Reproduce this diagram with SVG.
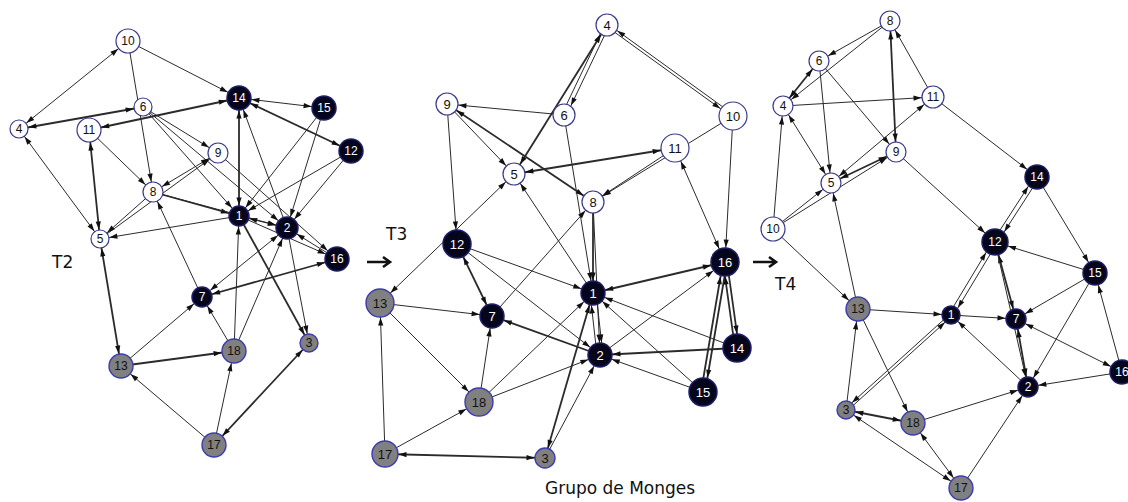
<svg xmlns="http://www.w3.org/2000/svg" width="1128" height="502" viewBox="0 0 1128 502">
  <defs>
    <style>
      .e line{stroke:#2b2b2b;stroke-width:1;fill:none}
      .e .b{stroke-width:1.8}
      .t9{marker-end:url(#m9)} .t10{marker-end:url(#m10)} .t11{marker-end:url(#m11)}
      .t12{marker-end:url(#m12)} .t13{marker-end:url(#m13)} .t14{marker-end:url(#m14)}
      .s9{marker-start:url(#m9)} .s10{marker-start:url(#m10)} .s11{marker-start:url(#m11)}
      .s12{marker-start:url(#m12)} .s13{marker-start:url(#m13)} .s14{marker-start:url(#m14)}
      .w circle{fill:#fff;stroke:#3a3a8c;stroke-width:1.2}
      .k circle{fill:#05051c;stroke:#1e1e66;stroke-width:1.5}
      .g circle{fill:#808080;stroke:#3c3cb0;stroke-width:1.4}
      .w text,.g text,.k text{font-family:"Liberation Sans",Arial,sans-serif;font-size:12px;text-anchor:middle}
      .w text,.g text{fill:#111}
      .k text{fill:#fff}
      .big text{font-size:13px}
      .lbl{font-family:"DejaVu Sans",Verdana,sans-serif;font-size:17px;fill:#111}
      .arr{stroke:#111;stroke-width:2.6;fill:none}
    </style>
    <marker id="m9" markerUnits="userSpaceOnUse" markerWidth="9" markerHeight="7" refX="17.5" refY="3" orient="auto-start-reverse" overflow="visible"><path d="M0,0.4 L8,3 L0,5.6 z" fill="#111"/></marker>
    <marker id="m10" markerUnits="userSpaceOnUse" markerWidth="9" markerHeight="7" refX="18.5" refY="3" orient="auto-start-reverse" overflow="visible"><path d="M0,0.4 L8,3 L0,5.6 z" fill="#111"/></marker>
    <marker id="m11" markerUnits="userSpaceOnUse" markerWidth="9" markerHeight="7" refX="19.5" refY="3" orient="auto-start-reverse" overflow="visible"><path d="M0,0.4 L8,3 L0,5.6 z" fill="#111"/></marker>
    <marker id="m12" markerUnits="userSpaceOnUse" markerWidth="9" markerHeight="7" refX="20.5" refY="3" orient="auto-start-reverse" overflow="visible"><path d="M0,0.4 L8,3 L0,5.6 z" fill="#111"/></marker>
    <marker id="m13" markerUnits="userSpaceOnUse" markerWidth="9" markerHeight="7" refX="21.5" refY="3" orient="auto-start-reverse" overflow="visible"><path d="M0,0.4 L8,3 L0,5.6 z" fill="#111"/></marker>
    <marker id="m14" markerUnits="userSpaceOnUse" markerWidth="9" markerHeight="7" refX="22.5" refY="3" orient="auto-start-reverse" overflow="visible"><path d="M0,0.4 L8,3 L0,5.6 z" fill="#111"/></marker>
  </defs>

  <rect width="1128" height="502" fill="#fff"/>

  <!-- ===== T2 : connectors ===== -->
  <g id="t2-edges" class="e">
    <line x1="19" y1="129" x2="128" y2="41" class="s9 t12"/>
    <line x1="128" y1="41" x2="239" y2="98" class="t12"/>
    <line x1="128" y1="41" x2="153" y2="192" class="t10"/>
    <line x1="19" y1="129" x2="143" y2="107" class="b s9 t9"/>
    <line x1="89" y1="130" x2="239" y2="98" class="b s12 t12"/>
    <line x1="19" y1="129" x2="100" y2="239" class="s9 t9"/>
    <line x1="89" y1="130" x2="100" y2="239" class="b s12 t9"/>
    <line x1="89" y1="130" x2="153" y2="192" class="t10"/>
    <line x1="143" y1="107" x2="218" y2="153" class="t10"/>
    <line x1="143" y1="107" x2="239" y2="216" class="t10"/>
    <line x1="143" y1="107" x2="287" y2="228" class="t11"/>
    <line x1="153" y1="192" x2="239" y2="216" class="b t10"/>
    <line x1="153" y1="192" x2="218" y2="153" class="s10 t10"/>
    <line x1="100" y1="239" x2="218" y2="153" class="t10"/>
    <line x1="153" y1="192" x2="100" y2="239" class="t9"/>
    <line x1="239" y1="216" x2="100" y2="239" class="t9"/>
    <line x1="153" y1="192" x2="287" y2="228" class="t11"/>
    <line x1="239" y1="98" x2="239" y2="216" class="b s12 t10"/>
    <line x1="239" y1="98" x2="324" y2="108" class="s12 t12"/>
    <line x1="239" y1="98" x2="351" y2="151" class="b s12 t12"/>
    <line x1="324" y1="108" x2="239" y2="216" class="t10"/>
    <line x1="324" y1="108" x2="287" y2="228" class="t11"/>
    <line x1="351" y1="151" x2="239" y2="216" class="t10"/>
    <line x1="351" y1="151" x2="287" y2="228" class="t11"/>
    <line x1="287" y1="228" x2="239" y2="98" class="t12"/>
    <line x1="239" y1="216" x2="287" y2="228" class="s10 t11"/>
    <line x1="239" y1="216" x2="337" y2="259" class="t12"/>
    <line x1="337" y1="259" x2="287" y2="228" class="t11"/>
    <line x1="218" y1="153" x2="337" y2="259" class="t12"/>
    <line x1="202" y1="297" x2="337" y2="259" class="b s10 t12"/>
    <line x1="287" y1="228" x2="202" y2="297" class="s11 t10"/>
    <line x1="202" y1="297" x2="153" y2="192" class="t10"/>
    <line x1="239" y1="216" x2="309" y2="343" class="b t9"/>
    <line x1="234" y1="351" x2="239" y2="216" class="t10"/>
    <line x1="234" y1="351" x2="287" y2="228" class="t11"/>
    <line x1="287" y1="228" x2="309" y2="343" class="t9"/>
    <line x1="121" y1="366" x2="202" y2="297" class="t10"/>
    <line x1="121" y1="366" x2="234" y2="351" class="b t12"/>
    <line x1="214" y1="445" x2="121" y2="366" class="t12"/>
    <line x1="214" y1="445" x2="234" y2="351" class="t12"/>
    <line x1="214" y1="445" x2="309" y2="343" class="b s12 t9"/>
    <line x1="100" y1="239" x2="121" y2="366" class="b s9 t12"/>
    <line x1="234" y1="351" x2="202" y2="297" class="t10"/>
  </g>

  <!-- ===== T2 : nodes ===== -->
  <g id="t2-n10" class="w"><circle cx="128" cy="41" r="12"/><text x="128" y="45">10</text></g>
  <g id="t2-n4" class="w"><circle cx="19" cy="129" r="9"/><text x="19" y="133">4</text></g>
  <g id="t2-n6" class="w"><circle cx="143" cy="107" r="9"/><text x="143" y="111">6</text></g>
  <g id="t2-n11" class="w"><circle cx="89" cy="130" r="12"/><text x="89" y="134">11</text></g>
  <g id="t2-n9" class="w"><circle cx="218" cy="153" r="10"/><text x="218" y="157">9</text></g>
  <g id="t2-n8" class="w"><circle cx="153" cy="192" r="10"/><text x="153" y="196">8</text></g>
  <g id="t2-n5" class="w"><circle cx="100" cy="239" r="9"/><text x="100" y="243">5</text></g>
  <g id="t2-n14" class="k"><circle cx="239" cy="98" r="12"/><text x="239" y="102">14</text></g>
  <g id="t2-n15" class="k"><circle cx="324" cy="108" r="12"/><text x="324" y="112">15</text></g>
  <g id="t2-n12" class="k"><circle cx="351" cy="151" r="12"/><text x="351" y="155">12</text></g>
  <g id="t2-n1" class="k"><circle cx="239" cy="216" r="10"/><text x="239" y="220">1</text></g>
  <g id="t2-n2" class="k"><circle cx="287" cy="228" r="11"/><text x="287" y="232">2</text></g>
  <g id="t2-n16" class="k"><circle cx="337" cy="259" r="12"/><text x="337" y="263">16</text></g>
  <g id="t2-n7" class="k"><circle cx="202" cy="297" r="10"/><text x="202" y="301">7</text></g>
  <g id="t2-n13" class="g"><circle cx="121" cy="366" r="12"/><text x="121" y="370">13</text></g>
  <g id="t2-n18" class="g"><circle cx="234" cy="351" r="12"/><text x="234" y="355">18</text></g>
  <g id="t2-n3" class="g"><circle cx="309" cy="343" r="9"/><text x="309" y="347">3</text></g>
  <g id="t2-n17" class="g"><circle cx="214" cy="445" r="12"/><text x="214" y="449">17</text></g>

  <!-- ===== T3 : connectors ===== -->
  <g id="t3-edges" class="e">
    <line x1="609" y1="26" x2="566" y2="116" class="t11"/>
    <line x1="605" y1="24" x2="562" y2="114" class="s11"/>
    <line x1="607" y1="25" x2="514" y2="174" class="b s11 t11"/>
    <line x1="606" y1="26" x2="732" y2="117" class="t14"/>
    <line x1="608" y1="24" x2="734" y2="115" class="s11"/>
    <line x1="564" y1="115" x2="447" y2="104" class="t11"/>
    <line x1="447" y1="104" x2="514" y2="174" class="t11"/>
    <line x1="447" y1="104" x2="593" y2="202" class="b s11 t11"/>
    <line x1="447" y1="104" x2="457" y2="244" class="t14"/>
    <line x1="514" y1="174" x2="380" y2="303" class="s11 t14"/>
    <line x1="514" y1="174" x2="675" y2="148" class="b s11 t14"/>
    <line x1="564" y1="115" x2="593" y2="293" class="t12"/>
    <line x1="733" y1="116" x2="593" y2="202" class="t11"/>
    <line x1="675" y1="148" x2="593" y2="202" class="t11"/>
    <line x1="733" y1="116" x2="725" y2="262" class="t14"/>
    <line x1="675" y1="148" x2="725" y2="262" class="s14 t14"/>
    <line x1="593" y1="202" x2="593" y2="293" class="b t12"/>
    <line x1="593" y1="202" x2="600" y2="355" class="t12"/>
    <line x1="492" y1="316" x2="593" y2="202" class="t11"/>
    <line x1="593" y1="293" x2="514" y2="174" class="t11"/>
    <line x1="457" y1="244" x2="593" y2="293" class="t12"/>
    <line x1="457" y1="244" x2="492" y2="316" class="b s14 t12"/>
    <line x1="457" y1="244" x2="600" y2="355" class="t12"/>
    <line x1="380" y1="303" x2="492" y2="316" class="t12"/>
    <line x1="380" y1="303" x2="479" y2="402" class="t14"/>
    <line x1="385" y1="454" x2="380" y2="303" class="t14"/>
    <line x1="385" y1="454" x2="479" y2="402" class="t14"/>
    <line x1="385" y1="454" x2="545" y2="458" class="b s13 t10"/>
    <line x1="479" y1="402" x2="492" y2="316" class="t12"/>
    <line x1="479" y1="402" x2="593" y2="293" class="t12"/>
    <line x1="479" y1="402" x2="600" y2="355" class="t12"/>
    <line x1="600" y1="355" x2="492" y2="316" class="b t12"/>
    <line x1="593" y1="293" x2="725" y2="262" class="b s12 t14"/>
    <line x1="600" y1="355" x2="725" y2="262" class="t14"/>
    <line x1="727" y1="262" x2="705" y2="392" class="b t14"/>
    <line x1="723" y1="262" x2="701" y2="392" class="b s14"/>
    <line x1="727" y1="262" x2="739" y2="348" class="b t14"/>
    <line x1="723" y1="262" x2="735" y2="348" class="b s14"/>
    <line x1="737" y1="348" x2="593" y2="293" class="t12"/>
    <line x1="737" y1="348" x2="600" y2="355" class="b t12"/>
    <line x1="703" y1="392" x2="600" y2="355" class="t12"/>
    <line x1="703" y1="392" x2="593" y2="293" class="t12"/>
    <line x1="590" y1="293" x2="597" y2="355" class="s12"/>
    <line x1="596" y1="293" x2="603" y2="355" class="t12"/>
    <line x1="545" y1="458" x2="593" y2="293" class="b s10 t12"/>
    <line x1="545" y1="458" x2="600" y2="355" class="t12"/>
  </g>

  <!-- ===== T3 : nodes ===== -->
  <g id="t3-n4" class="w big"><circle cx="607" cy="25" r="11"/><text x="607" y="30">4</text></g>
  <g id="t3-n6" class="w big"><circle cx="564" cy="115" r="11"/><text x="564" y="120">6</text></g>
  <g id="t3-n9" class="w big"><circle cx="447" cy="104" r="11"/><text x="447" y="109">9</text></g>
  <g id="t3-n10" class="w big"><circle cx="733" cy="116" r="14"/><text x="733" y="121">10</text></g>
  <g id="t3-n11" class="w big"><circle cx="675" cy="148" r="14"/><text x="675" y="153">11</text></g>
  <g id="t3-n5" class="w big"><circle cx="514" cy="174" r="11"/><text x="514" y="179">5</text></g>
  <g id="t3-n8" class="w big"><circle cx="593" cy="202" r="11"/><text x="593" y="207">8</text></g>
  <g id="t3-n12" class="k big"><circle cx="457" cy="244" r="14"/><text x="457" y="249">12</text></g>
  <g id="t3-n7" class="k big"><circle cx="492" cy="316" r="12"/><text x="492" y="321">7</text></g>
  <g id="t3-n16" class="k big"><circle cx="725" cy="262" r="14"/><text x="725" y="267">16</text></g>
  <g id="t3-n1" class="k big"><circle cx="593" cy="293" r="12"/><text x="593" y="298">1</text></g>
  <g id="t3-n2" class="k big"><circle cx="600" cy="355" r="12"/><text x="600" y="360">2</text></g>
  <g id="t3-n14" class="k big"><circle cx="737" cy="348" r="14"/><text x="737" y="353">14</text></g>
  <g id="t3-n15" class="k big"><circle cx="703" cy="392" r="14"/><text x="703" y="397">15</text></g>
  <g id="t3-n13" class="g big"><circle cx="380" cy="303" r="14"/><text x="380" y="308">13</text></g>
  <g id="t3-n18" class="g big"><circle cx="479" cy="402" r="14"/><text x="479" y="407">18</text></g>
  <g id="t3-n17" class="g big"><circle cx="385" cy="454" r="13"/><text x="385" y="459">17</text></g>
  <g id="t3-n3" class="g big"><circle cx="545" cy="458" r="10"/><text x="545" y="463">3</text></g>

  <!-- ===== T4 : connectors ===== -->
  <g id="t4-edges" class="e">
    <line x1="890" y1="21" x2="819" y2="61" class="t10"/>
    <line x1="890" y1="21" x2="783" y2="106" class="t10"/>
    <line x1="819" y1="61" x2="783" y2="106" class="b s10 t10"/>
    <line x1="819" y1="61" x2="831" y2="183" class="t10"/>
    <line x1="819" y1="61" x2="896" y2="152" class="t10"/>
    <line x1="890" y1="21" x2="896" y2="152" class="b s10 t10"/>
    <line x1="933" y1="97" x2="890" y2="21" class="t10"/>
    <line x1="783" y1="106" x2="933" y2="97" class="t11"/>
    <line x1="783" y1="106" x2="831" y2="183" class="s10 t10"/>
    <line x1="773" y1="229" x2="783" y2="106" class="t10"/>
    <line x1="773" y1="229" x2="831" y2="183" class="t10"/>
    <line x1="773" y1="229" x2="896" y2="152" class="t10"/>
    <line x1="831" y1="183" x2="896" y2="152" class="b s10 t10"/>
    <line x1="831" y1="183" x2="933" y2="97" class="s10 t11"/>
    <line x1="933" y1="97" x2="1037" y2="177" class="t12"/>
    <line x1="896" y1="152" x2="995" y2="242" class="t13"/>
    <line x1="1039" y1="178" x2="997" y2="243" class="t13"/>
    <line x1="1035" y1="176" x2="993" y2="241" class="s12"/>
    <line x1="1037" y1="177" x2="1095" y2="273" class="t12"/>
    <line x1="1095" y1="273" x2="995" y2="242" class="t13"/>
    <line x1="1095" y1="273" x2="1016" y2="319" class="t10"/>
    <line x1="1095" y1="273" x2="1028" y2="387" class="t10"/>
    <line x1="1122" y1="372" x2="1095" y2="273" class="t12"/>
    <line x1="997" y1="243" x2="953" y2="316" class="t9"/>
    <line x1="993" y1="241" x2="949" y2="314" class="s13"/>
    <line x1="995" y1="242" x2="1016" y2="319" class="b s13 t10"/>
    <line x1="995" y1="242" x2="1028" y2="387" class="t10"/>
    <line x1="1016" y1="319" x2="1028" y2="387" class="b s10 t10"/>
    <line x1="951" y1="315" x2="1016" y2="319" class="t10"/>
    <line x1="1028" y1="387" x2="951" y2="315" class="t9"/>
    <line x1="1016" y1="319" x2="1122" y2="372" class="s10 t12"/>
    <line x1="1122" y1="372" x2="1028" y2="387" class="t10"/>
    <line x1="913" y1="423" x2="1028" y2="387" class="t10"/>
    <line x1="961" y1="488" x2="1028" y2="387" class="t10"/>
    <line x1="858" y1="309" x2="951" y2="315" class="t9"/>
    <line x1="858" y1="309" x2="831" y2="183" class="t10"/>
    <line x1="773" y1="229" x2="858" y2="309" class="t12"/>
    <line x1="846" y1="410" x2="858" y2="309" class="t12"/>
    <line x1="858" y1="309" x2="913" y2="423" class="t12"/>
    <line x1="847" y1="411" x2="952" y2="316" class="t9"/>
    <line x1="845" y1="409" x2="950" y2="314" class="s9"/>
    <line x1="846" y1="410" x2="913" y2="423" class="b s9 t12"/>
    <line x1="846" y1="410" x2="961" y2="488" class="s9 t12"/>
    <line x1="913" y1="423" x2="961" y2="488" class="s12 t12"/>
  </g>

  <!-- ===== T4 : nodes ===== -->
  <g id="t4-n8" class="w"><circle cx="890" cy="21" r="10"/><text x="890" y="25">8</text></g>
  <g id="t4-n6" class="w"><circle cx="819" cy="61" r="10"/><text x="819" y="65">6</text></g>
  <g id="t4-n4" class="w"><circle cx="783" cy="106" r="10"/><text x="783" y="110">4</text></g>
  <g id="t4-n11" class="w"><circle cx="933" cy="97" r="11"/><text x="933" y="101">11</text></g>
  <g id="t4-n9" class="w"><circle cx="896" cy="152" r="10"/><text x="896" y="156">9</text></g>
  <g id="t4-n5" class="w"><circle cx="831" cy="183" r="10"/><text x="831" y="187">5</text></g>
  <g id="t4-n10" class="w"><circle cx="773" cy="229" r="12"/><text x="773" y="233">10</text></g>
  <g id="t4-n14" class="k"><circle cx="1037" cy="177" r="12"/><text x="1037" y="181">14</text></g>
  <g id="t4-n12" class="k"><circle cx="995" cy="242" r="13"/><text x="995" y="246">12</text></g>
  <g id="t4-n15" class="k"><circle cx="1095" cy="273" r="12"/><text x="1095" y="277">15</text></g>
  <g id="t4-n1" class="k"><circle cx="951" cy="315" r="9"/><text x="951" y="319">1</text></g>
  <g id="t4-n7" class="k"><circle cx="1016" cy="319" r="10"/><text x="1016" y="323">7</text></g>
  <g id="t4-n2" class="k"><circle cx="1028" cy="387" r="10"/><text x="1028" y="391">2</text></g>
  <g id="t4-n16" class="k"><circle cx="1122" cy="372" r="12"/><text x="1122" y="376">16</text></g>
  <g id="t4-n13" class="g"><circle cx="858" cy="309" r="12"/><text x="858" y="313">13</text></g>
  <g id="t4-n3" class="g"><circle cx="846" cy="410" r="9"/><text x="846" y="414">3</text></g>
  <g id="t4-n18" class="g"><circle cx="913" cy="423" r="12"/><text x="913" y="427">18</text></g>
  <g id="t4-n17" class="g"><circle cx="961" cy="488" r="12"/><text x="961" y="492">17</text></g>

  <!-- stage labels and transition arrows -->
  <g id="labels">
    <text class="lbl" x="52" y="268">T2</text>
    <text class="lbl" x="386" y="240">T3</text>
    <text class="lbl" x="775" y="290">T4</text>
    <path class="arr" d="M367,262 H389 M383,257 L390,262 L383,267"/>
    <path class="arr" d="M753,262 H775 M769,257 L776,262 L769,267"/>
    <text class="lbl" x="545" y="494">Grupo de Monges</text>
  </g>
</svg>
